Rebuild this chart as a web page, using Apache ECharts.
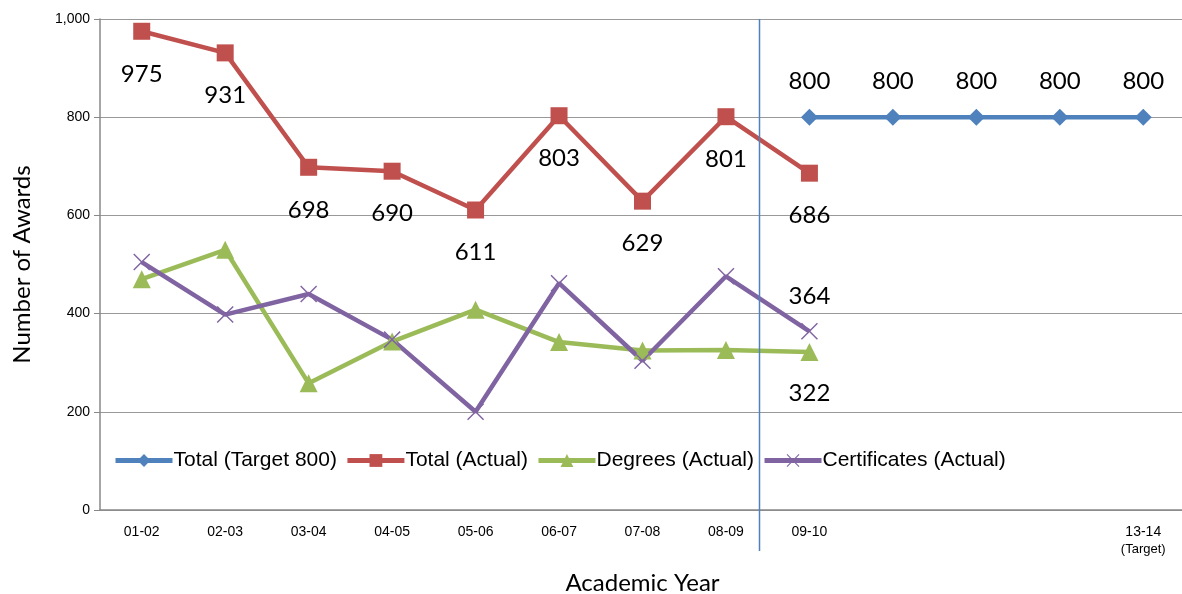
<!DOCTYPE html>
<html>
<head>
<meta charset="utf-8">
<script src="https://cdn.jsdelivr.net/npm/echarts@6/dist/echarts.min.js"></script>
<style>
  html, body { margin: 0; padding: 0; background: #fff; }
  #chart { width: 1182px; height: 594px; }
</style>
</head>
<body>
<div id="chart"></div>
<script>
// Academic years on the x axis (blank slots are intermediate years with no label)
const years = ['01-02', '02-03', '03-04', '04-05', '05-06', '06-07', '07-08', '08-09', '09-10', '', '', '', '13-14\n(Target)'];

// Award counts per academic year
const targetTotal = [null, null, null, null, null, null, null, null, 800, 800, 800, 800, 800];
const actualTotal = [975, 931, 698, 690, 611, 803, 629, 801, 686];
const degrees = [470, 530, 258, 343, 408, 342, 325, 326, 322];
const certificates = [505, 398, 440, 347, 200, 462, 304, 476, 364];

const yTicks = [0, 200, 400, 600, 800, 1000];

const BLUE = '#4F81BD', RED = '#C0504D', GREEN = '#9BBB59', PURPLE = '#8064A2';
const LABEL_FONT = 'Lato, "Open Sans", sans-serif';
const TICK_FONT = '"Liberation Sans", Arial, sans-serif';

const CROSS = 'path://M0,0.6 L0.6,0 L5,4.4 L9.4,0 L10,0.6 L5.6,5 L10,9.4 L9.4,10 L5,5.6 L0.6,10 L0,9.4 L4.4,5 Z';

function bigLabel(pos, dist) {
  return { show: true, position: pos, distance: dist, fontSize: 24, color: '#000', fontFamily: LABEL_FONT };
}

// Only the latest year is labelled on the two breakdown series
function lastLabelled(values, pos, dist) {
  return values.map((v, i) => i === values.length - 1 ? { value: v, label: bigLabel(pos, dist) } : v);
}

const chart = echarts.init(document.getElementById('chart'));

const option = {
  animation: false,
  backgroundColor: '#fff',
  grid: { left: 100, right: -3, top: 19, bottom: 84, containLabel: false, outerBoundsMode: 'none' },
  legend: {
    left: 108, top: 445,
    itemWidth: 57, itemHeight: 16, itemGap: 8,
    lineStyle: { width: 5 },
    textStyle: { fontSize: 21, fontFamily: TICK_FONT, color: '#000', padding: [0, 0, 0, -4] },
    data: ['Total (Target 800)', 'Total (Actual)', 'Degrees (Actual)', 'Certificates (Actual)']
  },
  xAxis: {
    type: 'category',
    data: years,
    boundaryGap: true,
    name: 'Academic Year',
    nameLocation: 'middle',
    nameGap: 61,
    nameTextStyle: { fontSize: 24, fontFamily: LABEL_FONT, color: '#000' },
    axisLine: { lineStyle: { color: '#888', width: 1.5 } },
    axisTick: { show: false },
    axisLabel: {
      interval: 0, margin: 14, fontSize: 14, fontFamily: TICK_FONT, color: '#000', lineHeight: 17,
      formatter: function (v) {
        const parts = v.split('\n');
        return parts.length > 1 ? parts[0] + '\n{s|' + parts[1] + '}' : v;
      },
      rich: { s: { fontSize: 13, fontFamily: TICK_FONT, color: '#000', lineHeight: 17 } }
    },
    splitLine: { show: false }
  },
  yAxis: {
    type: 'value',
    min: yTicks[0], max: yTicks[yTicks.length - 1], interval: 200,
    name: 'Number of Awards',
    nameLocation: 'middle',
    nameGap: 66,
    nameTextStyle: { fontSize: 24, fontFamily: LABEL_FONT, color: '#000' },
    axisLine: { show: true, lineStyle: { color: '#888', width: 1.5 } },
    axisTick: { show: true, length: 6, lineStyle: { color: '#888' } },
    axisLabel: {
      fontSize: 14, fontFamily: TICK_FONT, color: '#000', margin: 10,
      formatter: v => v.toLocaleString('en-US')
    },
    splitLine: { show: true, lineStyle: { color: '#999', width: 1.2 } }
  },
  series: [
    {
      name: 'Total (Target 800)', type: 'line', data: targetTotal,
      symbol: 'diamond', symbolSize: 17,
      lineStyle: { color: BLUE, width: 4.5 }, itemStyle: { color: BLUE },
      label: bigLabel('top', 15), z: 3
    },
    {
      name: 'Total (Actual)', type: 'line', data: actualTotal,
      symbol: 'rect', symbolSize: 17,
      lineStyle: { color: RED, width: 4.5 }, itemStyle: { color: RED },
      label: bigLabel('bottom', 22), z: 3
    },
    {
      name: 'Degrees (Actual)', type: 'line', data: lastLabelled(degrees, 'bottom', 20),
      symbol: 'triangle', symbolSize: 18,
      lineStyle: { color: GREEN, width: 4.5 }, itemStyle: { color: GREEN }, z: 2
    },
    {
      name: 'Certificates (Actual)', type: 'line', data: lastLabelled(certificates, 'top', 15),
      symbol: CROSS, symbolSize: 17,
      lineStyle: { color: PURPLE, width: 4.5 }, itemStyle: { color: PURPLE }, z: 2
    }
  ]
};

chart.setOption(option);

// Divider between historical years and the projection period
const x0 = chart.convertToPixel({ xAxisIndex: 0 }, 7);
const x1 = chart.convertToPixel({ xAxisIndex: 0 }, 8);
const xDiv = Math.round(x0 + (x1 - x0) * 0.4) + 0.5;
const yTop = chart.convertToPixel({ yAxisIndex: 0 }, yTicks[yTicks.length - 1]);
const yBase = chart.convertToPixel({ yAxisIndex: 0 }, yTicks[0]);
chart.setOption({
  graphic: [{
    type: 'line', z: 10,
    shape: { x1: xDiv, y1: yTop, x2: xDiv, y2: yBase + 41 },
    style: { stroke: BLUE, lineWidth: 1.5 }
  }]
});
</script>
</body>
</html>
